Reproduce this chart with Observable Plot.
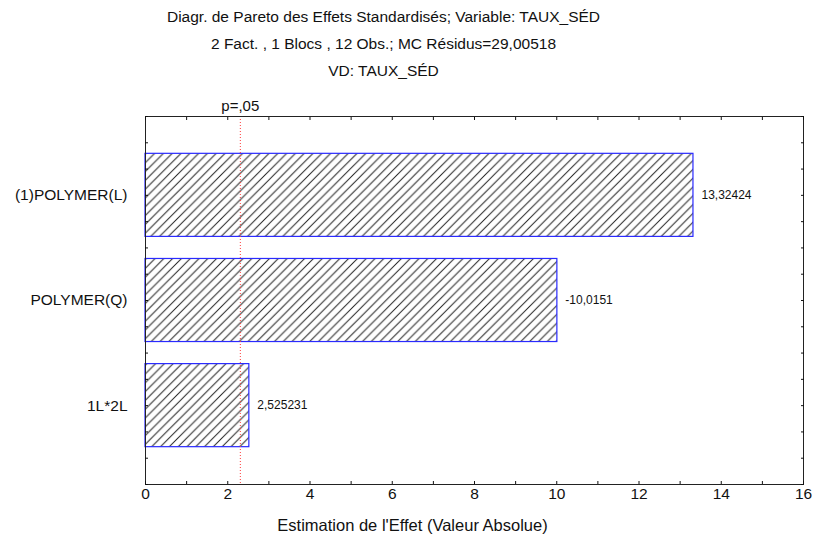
<!DOCTYPE html>
<html><head><meta charset="utf-8">
<script src="https://cdn.jsdelivr.net/npm/d3@7"></script>
<script src="https://cdn.jsdelivr.net/npm/@observablehq/plot@0.6"></script>
<style>
body{margin:0;background:#fff;}
#chart svg{font-family:"Liberation Sans",Arial,sans-serif;overflow:visible}
</style>
</head><body>
<svg width="0" height="0" style="position:absolute">
  <defs>
    <pattern id="hatch" patternUnits="userSpaceOnUse" width="8.8" height="8.8">
      <path d="M0,8.8 L8.8,0 M-1,1 L1,-1 M7.8,9.8 L9.8,7.8" stroke="#222" stroke-width="1"/>
    </pattern>
  </defs>
</svg>
<div id="chart"></div>
<script>
const titleLines = [
  "Diagr. de Pareto des Effets Standardisés; Variable: TAUX_SÉD",
  "2 Fact. , 1 Blocs , 12 Obs.; MC Résidus=29,00518",
  "VD: TAUX_SÉD"
];
const factors = ["(1)POLYMER(L)", "POLYMER(Q)", "1L*2L"];
const effects = [13.32424, 10.0151, 2.525231];
const effectLabels = ["13,32424", "-10,0151", "2,525231"];
const pCrit = 2.306;
const pLabel = "p=,05";
const xTicks = [0, 2, 4, 6, 8, 10, 12, 14, 16];
const xMinorTicks = d3.range(0, 17, 1);
const yMinorTicks = d3.range(-0.75, 2.76, 0.25);
const xLabel = "Estimation de l'Effet (Valeur Absolue)";

const rows = factors.map((f, i) => ({factor: f, i, effect: effects[i], label: effectLabels[i]}));
const half = 0.395;

const chart = Plot.plot({
  width: 814,
  height: 545,
  marginLeft: 145,
  marginRight: 11,
  marginTop: 116,
  marginBottom: 61,
  style: {fontFamily: "'Liberation Sans', Arial, sans-serif", color: "#111", background: "#fff"},
  x: {domain: [0, 16], axis: null, label: null},
  y: {domain: [2.75, -0.75], axis: null, label: null},
  marks: [
    Plot.rectX(rows, {x1: 0, x2: "effect", y1: d => d.i - half, y2: d => d.i + half,
      fill: "url(#hatch)", stroke: "#2a2aff", strokeWidth: 1.2}),
    Plot.ruleX([pCrit], {stroke: "#ff3b3b", strokeWidth: 1, strokeDasharray: "1,2"}),
    Plot.frame({stroke: "#222", strokeWidth: 1}),
    Plot.text(rows, {x: "effect", y: "i", text: "label", textAnchor: "start", dx: 8, fontSize: 12, fill: "#111"}),
    Plot.text([pCrit], {x: d => d, frameAnchor: "top", dy: -16, text: () => pLabel, fontSize: 15, fill: "#111"}),
    Plot.text(xTicks, {x: d => d, frameAnchor: "bottom", dy: 14, text: d => String(d), fontSize: 15.5, fill: "#111"}),
    Plot.axisX(xMinorTicks, {anchor: "bottom", tickSize: -3, tickFormat: () => "", label: null}),
    Plot.axisX(xMinorTicks, {anchor: "top", tickSize: -3, tickFormat: () => "", label: null}),
    Plot.text([0, 1, 2], {y: d => d, frameAnchor: "left", dx: -18, textAnchor: "end", text: i => factors[i], fontSize: 15.5, fill: "#111"}),
    Plot.axisY(yMinorTicks, {anchor: "left", tickSize: -3, tickFormat: () => "", label: null}),
    Plot.axisY(yMinorTicks, {anchor: "right", tickSize: -3, tickFormat: () => "", label: null}),
    Plot.text([titleLines.join("\n")], {frameAnchor: "top", dx: -91, dy: -114, lineAnchor: "top", lineHeight: 1.75, fontSize: 15.5, fill: "#111", text: d => d}),
    Plot.text([xLabel], {frameAnchor: "bottom", dx: -62, dy: 46, fontSize: 16.5, fill: "#111", text: d => d})
  ]
});
document.getElementById("chart").appendChild(chart);
</script>
</body></html>
